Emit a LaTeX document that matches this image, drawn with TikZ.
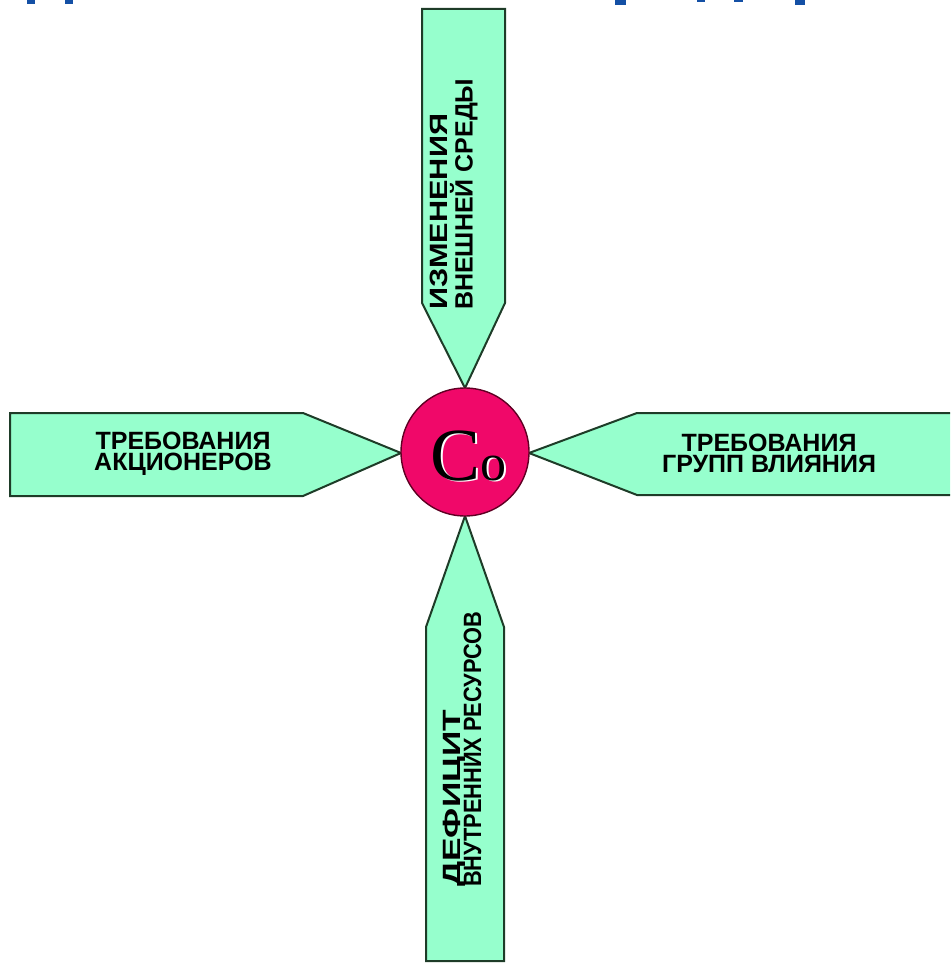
\documentclass[tikz,border=0pt]{standalone}
\usepackage{fontspec}
\usepackage{graphicx}
\setmainfont{Liberation Serif}
\newfontfamily\labsans{Liberation Sans}
\usetikzlibrary{arrows.meta}
\newcommand{\coremark}{C{\fontsize{52}{52}\selectfont o}}

\begin{document}
\begin{tikzpicture}[x=1pt,y=-1pt,
    spoke/.style={draw=cLine,fill=cFill,line width=2pt,line join=miter},
    spoketext/.style={inner sep=0pt,text=black,
       font={\labsans\bfseries\fontsize{25}{21}\selectfont\lineskiplimit=-50pt}},
    coremarkstyle/.style={anchor=base west,inner sep=0pt,font={\fontsize{75}{75}\selectfont}}]
    \definecolor{cFill}{RGB}{150,255,205}\definecolor{cLine}{RGB}{30,60,40}
    \definecolor{cCore}{RGB}{240,8,105}\definecolor{cRim}{RGB}{95,0,35}
    \definecolor{cTitle}{RGB}{20,80,165}
    \useasboundingbox (0,0) rectangle (950,963);
    \clip (0,0) rectangle (950,963);
    % remains of the cut-off title
    \foreach \a/\b/\h in {27/35/4,65/73/4,615/626/5,697/705/2,734/743/2,795/805/5}
       \fill[cTitle] (\a,0) rectangle (\b,\h);
    % four spokes pointing at the core
    \draw[spoke] (422,9) -- (505,9) -- (505,303) -- (465,388) -- (422,303) -- cycle;
    \draw[spoke] (10,413) -- (303,413) -- (401,453) -- (303,496) -- (10,496) -- cycle;
    \draw[spoke] (529,453) -- (637,413) -- (970,413) -- (970,495) -- (637,495) -- cycle;
    \draw[spoke] (465,516) -- (504,627) -- (504,961) -- (426,961) -- (426,627) -- cycle;
    % core
    \node[circle,draw=cRim,fill=cCore,line width=1.4pt,minimum size=128pt,inner sep=0pt] (core) at (465,452) {};
    \node[coremarkstyle,text=white] (coShade) at (431.8,481.8) {\coremark};
    \node[coremarkstyle,text=black] (coText) at (430,480) {\coremark};
    % labels
    \node[spoketext,rotate=90,anchor=west,align=left,
       font={\labsans\bfseries\fontsize{25}{25}\selectfont\lineskiplimit=-50pt}]
       (envText) at (454,310) {\resizebox{196pt}{\height}{ИЗМЕНЕНИЯ}\\ВНЕШНЕЙ СРЕДЫ};
    \node[spoketext,align=center] (shareText) at (183,454) {ТРЕБОВАНИЯ\\АКЦИОНЕРОВ};
    \node[spoketext,align=center] (groupText) at (769,453) {ТРЕБОВАНИЯ\\ГРУПП ВЛИЯНИЯ};
    \node[spoketext,rotate=90,anchor=west,align=left] (resText) at (462,887)
       {\resizebox{177pt}{\height}{ДЕФИЦИТ}\\\resizebox{275pt}{\height}{ВНУТРЕННИХ РЕСУРСОВ}};
  \end{tikzpicture}
\end{document}
